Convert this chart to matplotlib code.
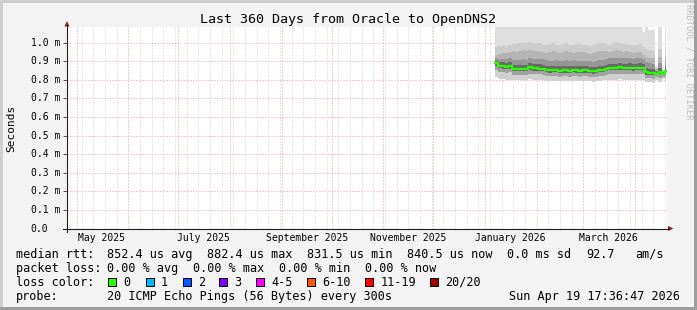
import numpy as np
import matplotlib
matplotlib.use("Agg")
import matplotlib.pyplot as plt
import matplotlib.dates as mdates
import matplotlib.transforms as mtransforms
from matplotlib.patches import Rectangle, Polygon
from datetime import datetime, timedelta

# time window of the graph (360 days)
t_start = datetime(2025, 4, 25, 5, 0)
t_end = t_start + timedelta(days=360)

# sample days counted from 2026-01-01 (2 day steps)
days = np.arange(6, 110, 2)

# median rtt in ms
median = [0.889, 0.876, 0.873, 0.870, 0.873, 0.860, 0.858, 0.858, 0.858, 0.859,
          0.867, 0.862, 0.862, 0.861, 0.860, 0.854, 0.851, 0.851, 0.852, 0.850,
          0.851, 0.851, 0.850, 0.852, 0.851, 0.850, 0.851, 0.851, 0.848, 0.846,
          0.847, 0.853, 0.855, 0.858, 0.864, 0.866, 0.865, 0.867, 0.866, 0.864,
          0.866, 0.862, 0.865, 0.866, 0.863, 0.840, 0.838, 0.837, 0.834, 0.843,
          0.834, 0.845]

# smoke, upper side (outermost first)
smoke_top = [1.10] * 44 + [1.060, 1.10, 1.070, 1.070, 0.872, 1.10, 0.858, 1.10]
smoke_hi4 = [0.975, 0.980, 0.985, 0.978, 0.990, 0.995, 0.992, 0.998, 1.000, 0.996,
             1.002, 0.998, 0.995, 1.000, 0.990, 0.985, 0.992, 0.996, 0.990, 0.988,
             0.993, 0.997, 0.990, 0.985, 0.992, 0.995, 0.990, 0.986, 0.982, 0.990,
             0.995, 1.000, 0.998, 0.994, 0.990, 0.996, 1.002, 0.998, 0.992, 0.995,
             0.990, 0.985, 0.988, 0.992, 0.975, 0.965, 0.960, 0.955, 0.865, 0.965,
             0.853, 0.975]
smoke_hi3 = [0.935, 0.940, 0.945, 0.942, 0.950, 0.955, 0.950, 0.958, 0.960, 0.955,
             0.962, 0.958, 0.955, 0.950, 0.948, 0.945, 0.950, 0.955, 0.950, 0.947,
             0.952, 0.955, 0.950, 0.945, 0.950, 0.952, 0.948, 0.944, 0.940, 0.946,
             0.950, 0.955, 0.957, 0.955, 0.952, 0.958, 0.962, 0.958, 0.952, 0.955,
             0.950, 0.946, 0.950, 0.952, 0.935, 0.925, 0.920, 0.918, 0.858, 0.925,
             0.848, 0.930]
smoke_hi2 = [0.915, 0.910, 0.912, 0.910, 0.915, 0.908, 0.905, 0.908, 0.910, 0.908,
             0.918, 0.912, 0.912, 0.910, 0.910, 0.905, 0.902, 0.903, 0.905, 0.902,
             0.904, 0.905, 0.902, 0.905, 0.903, 0.902, 0.904, 0.903, 0.900, 0.898,
             0.900, 0.906, 0.908, 0.910, 0.915, 0.918, 0.916, 0.920, 0.918, 0.915,
             0.918, 0.913, 0.916, 0.918, 0.912, 0.895, 0.890, 0.888, 0.850, 0.893,
             0.843, 0.898]
smoke_hi1 = [0.902, 0.896, 0.894, 0.892, 0.895, 0.882, 0.880, 0.881, 0.880, 0.882,
             0.889, 0.884, 0.885, 0.883, 0.882, 0.877, 0.873, 0.874, 0.875, 0.872,
             0.874, 0.873, 0.872, 0.875, 0.873, 0.872, 0.874, 0.873, 0.870, 0.868,
             0.869, 0.876, 0.877, 0.880, 0.887, 0.888, 0.887, 0.890, 0.888, 0.886,
             0.889, 0.884, 0.887, 0.889, 0.885, 0.862, 0.860, 0.859, 0.845, 0.866,
             0.840, 0.867]
# smoke, lower side (outermost first)
smoke_lo3 = [0.815, 0.805, 0.802, 0.800, 0.801, 0.798, 0.799, 0.800, 0.797, 0.799,
             0.802, 0.800, 0.799, 0.800, 0.798, 0.795, 0.794, 0.796, 0.795, 0.793,
             0.795, 0.796, 0.794, 0.795, 0.796, 0.793, 0.795, 0.794, 0.792, 0.790,
             0.792, 0.795, 0.797, 0.798, 0.800, 0.801, 0.800, 0.802, 0.800, 0.799,
             0.801, 0.798, 0.800, 0.801, 0.798, 0.787, 0.786, 0.785, 0.800, 0.790,
             0.805, 0.788]
smoke_lo2 = [0.852, 0.843, 0.840, 0.838, 0.840, 0.828, 0.826, 0.827, 0.825, 0.827,
             0.834, 0.830, 0.829, 0.829, 0.828, 0.822, 0.819, 0.819, 0.820, 0.818,
             0.819, 0.820, 0.818, 0.820, 0.819, 0.818, 0.819, 0.819, 0.816, 0.814,
             0.815, 0.821, 0.823, 0.826, 0.831, 0.833, 0.832, 0.834, 0.833, 0.831,
             0.833, 0.830, 0.832, 0.833, 0.830, 0.810, 0.808, 0.807, 0.815, 0.812,
             0.818, 0.814]
smoke_lo1 = [0.872, 0.863, 0.861, 0.858, 0.860, 0.848, 0.846, 0.847, 0.846, 0.847,
             0.855, 0.850, 0.850, 0.849, 0.848, 0.842, 0.839, 0.840, 0.840, 0.838,
             0.839, 0.839, 0.838, 0.840, 0.839, 0.838, 0.839, 0.839, 0.836, 0.834,
             0.835, 0.841, 0.843, 0.846, 0.852, 0.854, 0.853, 0.855, 0.854, 0.852,
             0.854, 0.850, 0.853, 0.854, 0.851, 0.828, 0.826, 0.825, 0.824, 0.831,
             0.824, 0.833]

y_ticks = [0.0, 0.1, 0.2, 0.3, 0.4, 0.5, 0.6, 0.7, 0.8, 0.9, 1.0]
y_labels = ["0.0", "0.1 m", "0.2 m", "0.3 m", "0.4 m", "0.5 m", "0.6 m",
            "0.7 m", "0.8 m", "0.9 m", "1.0 m"]
month_labels = ["May 2025", "July 2025", "September 2025", "November 2025",
                "January 2026", "March 2026"]
month_label_dates = [datetime(2025, 5, 16), datetime(2025, 7, 16), datetime(2025, 9, 16),
                     datetime(2025, 11, 16), datetime(2026, 1, 16), datetime(2026, 3, 16)]

loss_labels = ["0", "1", "2", "3", "4-5", "6-10", "11-19", "20/20"]
loss_colors = ["#26ff00", "#00b8ff", "#0059ff", "#7e00ff", "#ff00ff", "#ff5500",
               "#ff0000", "#a00000"]

W, H = 697, 310
MONO = "DejaVu Sans Mono"

fig = plt.figure(figsize=(W / 100, H / 100), dpi=100, facecolor="#f3f3f3")


def fx(x):
    return x / W


def fy(y):
    return 1 - y / H


# plot area in pixels
left, right, top, bottom = 67, 667, 27.3, 228.5
ax = fig.add_axes([fx(left), fy(bottom), (right - left) / W, (bottom - top) / H])
ax.set_facecolor("white")
ax.set_xlim(mdates.date2num(t_start), mdates.date2num(t_end))
ax.set_ylim(0, (bottom - top) / 185.8)
for s in ax.spines.values():
    s.set_visible(False)

# grid: weekly (sundays) minor, monthly major, 0.1 m horizontal
ax.xaxis.set_major_locator(mdates.MonthLocator())
ax.xaxis.set_minor_locator(mdates.WeekdayLocator(byweekday=mdates.SU))
ax.set_yticks(y_ticks)
ax.set_xticklabels([])
ax.set_yticklabels([])
ax.tick_params(axis="x", which="both", length=0)
ax.tick_params(axis="y", length=3, width=0.7, color="#505050")
dots = (0, (1, 2))
ax.grid(True, axis="x", which="minor", color="#cfcfcf", lw=0.72, ls=dots)
ax.grid(True, axis="x", which="major", color="#ee9a9a", lw=0.72, ls=dots)
ax.grid(True, axis="y", which="major", color="#ee9a9a", lw=0.72, ls=dots)
ax.set_axisbelow(True)

# smoke + median
base = mdates.date2num(datetime(2026, 1, 1))
xe = np.append(base + days, base + 108.8)


def ext(a):
    a = np.asarray(a, dtype=float)
    return np.append(a, a[-1])


m = ext(median)
for hi, c in [(smoke_top, "#dedede"), (smoke_hi4, "#cccccc"), (smoke_hi3, "#b4b4b4"),
              (smoke_hi2, "#969696"), (smoke_hi1, "#6a6a6a")]:
    ax.fill_between(xe, m, ext(hi), step="post", color=c, lw=0, zorder=2)
for lo, c in [(smoke_lo3, "#d0d0d0"), (smoke_lo2, "#a2a2a2"), (smoke_lo1, "#686868")]:
    ax.fill_between(xe, ext(lo), m, step="post", color=c, lw=0, zorder=2)
ax.step(xe, m, where="post", color="#26ff00", lw=1.6, zorder=3)

# axes lines with arrows
axis_col = "#202020"
arrow_col = "#8b1a1a"
fig.add_artist(plt.Line2D([fx(left), fx(left)], [fy(bottom + 3), fy(25)], color=axis_col, lw=0.8))
fig.add_artist(plt.Line2D([fx(left - 4), fx(right + 2)], [fy(bottom), fy(bottom)], color=axis_col, lw=0.8))
fig.add_artist(Polygon([[fx(left - 2.5), fy(26.5)], [fx(left + 2.5), fy(26.5)], [fx(left), fy(21)]],
                       closed=True, transform=fig.transFigure, color=arrow_col, lw=0))
fig.add_artist(Polygon([[fx(right + 1), fy(bottom - 2.5)], [fx(right + 1), fy(bottom + 2.5)],
                        [fx(right + 6.5), fy(bottom)]],
                       closed=True, transform=fig.transFigure, color=arrow_col, lw=0))

# y tick labels
ty = mtransforms.blended_transform_factory(fig.transFigure, ax.transData)
for v, lab in zip(y_ticks, y_labels):
    ax.text(fx(30.5), v, lab, transform=ty, ha="left", va="center", family=MONO,
            fontsize=7, color="black")

# month labels
tx = mtransforms.blended_transform_factory(ax.transData, fig.transFigure)
for d, lab in zip(month_label_dates, month_labels):
    ax.text(mdates.date2num(d), fy(237.7), lab, transform=tx, ha="center", va="center",
            family=MONO, fontsize=7, color="black")

# title, axis label, watermark
fig.text(fx(348), fy(19), "Last 360 Days from Oracle to OpenDNS2", ha="center", va="center",
         family=MONO, fontsize=9.6, color="black")
fig.text(fx(11), fy(128), "Seconds", rotation=90, ha="center", va="center",
         family=MONO, fontsize=8, color="black")
fig.text(fx(689), fy(4), "RRDTOOL / TOBI OETIKER", rotation=270, ha="center", va="top",
         family=MONO, fontsize=6.2, color="#bdbdbd")

# legend
fs = 8.5
rows = {
    254.3: [(16, "median rtt:"), (107.3, "852.4 us avg"), (207.3, "882.4 us max"),
            (306.7, "831.5 us min"), (406.7, "840.5 us now"), (506.7, "0.0 ms sd"),
            (586, "92.7"), (635, "am/s")],
    268.3: [(16, "packet loss:"), (107.3, "0.00 % avg"), (193.3, "0.00 % max"),
            (279.3, "0.00 % min"), (365.3, "0.00 % now")],
    282.3: [(16, "loss color:")],
    296.3: [(16, "probe:"), (107.3, "20 ICMP Echo Pings (56 Bytes) every 300s")],
}
for y, items in rows.items():
    for x, s in items:
        fig.text(fx(x), fy(y), s, ha="left", va="center", family=MONO, fontsize=fs)
fig.text(fx(680), fy(296.3), "Sun Apr 19 17:36:47 2026", ha="right", va="center",
         family=MONO, fontsize=fs)

box_x = [108, 145.7, 182.7, 219.3, 256.3, 307, 365.3, 430.3]
for bx, lab, c in zip(box_x, loss_labels, loss_colors):
    fig.add_artist(Rectangle((fx(bx), fy(286.3)), 8 / W, 8 / H, transform=fig.transFigure,
                             facecolor=c, edgecolor="black", lw=0.7))
    fig.text(fx(bx + 15), fy(282.3), lab, ha="left", va="center", family=MONO, fontsize=fs)

# 3d frame
fig.add_artist(Rectangle((0, fy(2.5)), 1, 2.5 / H, transform=fig.transFigure, color="#cfcfcf", lw=0))
fig.add_artist(Rectangle((0, 0), 2.5 / W, 1, transform=fig.transFigure, color="#cfcfcf", lw=0))
fig.add_artist(Rectangle((fx(W - 3), 0), 3 / W, 1, transform=fig.transFigure, color="#9e9e9e", lw=0))
fig.add_artist(Rectangle((0, 0), 1, 3 / H, transform=fig.transFigure, color="#9e9e9e", lw=0))

fig.savefig("out.png", dpi=100, facecolor=fig.get_facecolor())
